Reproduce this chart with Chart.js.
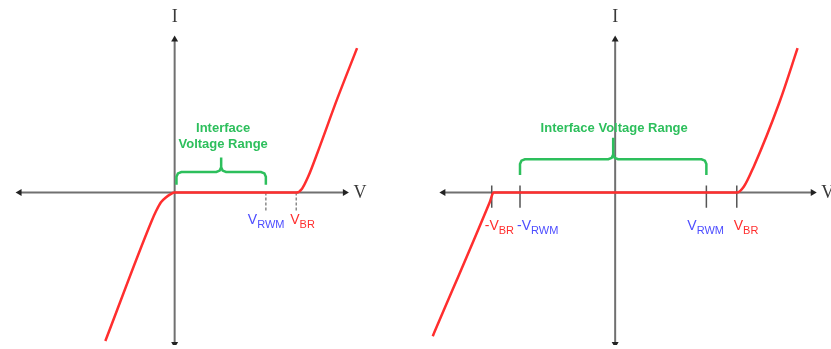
<!DOCTYPE html>
<html>
<head>
<meta charset="utf-8">
<script src="https://cdn.jsdelivr.net/npm/chart.js@4.4.1/dist/chart.umd.min.js"></script>
<style>
  html, body { margin: 0; padding: 0; background: #fff; }
  #wrap { position: relative; width: 831px; height: 349px; overflow: hidden; }
  canvas { position: absolute; top: 0; }
  #left { left: 0; }
  #right { left: 416px; }
</style>
</head>
<body>
<div id="wrap">
  <canvas id="left" width="415" height="349"></canvas>
  <canvas id="right" width="415" height="349"></canvas>
</div>
<script>
// ---- данные (единицы условные: V и I) ----
// левая панель: однонаправленный TVS
const leftV = [-2.28, -0.77, -0.61, -0.45, -0.29, -0.13, 0, 4, 4.19, 4.39, 4.71, 5.35, 6.0];
const leftI = [-4.9, -0.97, -0.61, -0.32, -0.16, -0.05, 0, 0, 0.13, 0.52, 1.35, 3.1, 4.77];
const leftTicks = [3.0, 4.0];            // V_RWM, V_BR
const leftRange = [0.06, 3.0];           // интерфейсный диапазон
const leftAxisV = [-5.1, 5.6];
const leftAxisI = [-5.0, 5.05];

// правая панель: двунаправленный TVS
const rightV = [-6.0, -4.12, -4.0, 4.0, 4.23, 4.55, 5.41, 6.0];
const rightI = [-4.74, -0.3, 0, 0, 0.19, 0.84, 3.0, 4.77];
const rightTicks = [-4.06, -3.13, 3.0, 4.0];   // -V_BR, -V_RWM, V_RWM, V_BR
const rightRange = [-3.13, 3.0];
const rightAxisV = [-5.65, 6.5];
const rightAxisI = [-5.0, 5.05];

const RED = '#ff2e2e';
const BLUE = '#4d4dff';
const GREEN = '#2dbf5c';
const AXIS = '#707070';

function pts(xs, ys) { return xs.map((x, i) => ({ x, y: ys[i] })); }

// фигурная скобка над диапазоном
function bracket(x0, x1, yb, yh, ytop) {
  const xm = (x0 + x1) / 2, r = 0.16;
  return [
    { x: x0, y: yb }, { x: x0, y: yh - r }, { x: x0 + r * 0.3, y: yh - r * 0.3 }, { x: x0 + r, y: yh },
    { x: xm - r, y: yh }, { x: xm - r * 0.3, y: yh + r * 0.3 }, { x: xm, y: yh + r }, { x: xm, y: ytop },
    { x: xm, y: yh + r }, { x: xm + r * 0.3, y: yh + r * 0.3 }, { x: xm + r, y: yh },
    { x: x1 - r, y: yh }, { x: x1 - r * 0.3, y: yh - r * 0.3 }, { x: x1, y: yh - r }, { x: x1, y: yb },
  ];
}

function axes(av, ai) {
  const base = { borderColor: AXIS, borderWidth: 2, pointStyle: 'triangle', pointRadius: 4,
    pointBackgroundColor: '#222', pointBorderColor: '#222', pointBorderWidth: 0, tension: 0 };
  return [
    { ...base, data: [{ x: av[0], y: 0 }, { x: av[1], y: 0 }], pointRotation: [-90, 90] },
    { ...base, data: [{ x: 0, y: ai[0] }, { x: 0, y: ai[1] }], pointRotation: [180, 0] },
  ];
}

function tickSets(ticks, top, bottom, color, dash, width) {
  return ticks.map(v => ({
    data: [{ x: v, y: top }, { x: v, y: bottom }],
    borderColor: color, borderWidth: width, borderDash: dash, pointRadius: 0, tension: 0,
  }));
}

const overlay = {
  id: 'overlay',
  afterDatasetsDraw(chart, args, o) {
    const { ctx, scales: { x, y } } = chart;
    const x0 = x.getPixelForValue(0), y0 = y.getPixelForValue(0);
    ctx.save();
    ctx.textBaseline = 'alphabetic';
    ctx.fillStyle = '#3a3a3a';
    ctx.font = '18px "Liberation Serif", "DejaVu Serif", serif';
    ctx.textAlign = 'center';
    ctx.fillText('I', x0, 22);
    ctx.fillText('V', x.getPixelForValue(o.vEnd) + 15, y0 + 5);

    ctx.fillStyle = GREEN;
    ctx.font = 'bold 13px "Liberation Sans", Arial, sans-serif';
    o.title.forEach((line, i) => ctx.fillText(line, x.getPixelForValue(o.peak) + o.titleDx, o.titleY + i * 16));

    ctx.textAlign = 'left';
    o.tags.forEach(t => {
      let px = x.getPixelForValue(t.v) + t.dx;
      ctx.fillStyle = t.color;
      ctx.font = '14px "Liberation Sans", Arial, sans-serif';
      const main = t.sign + 'V';
      ctx.fillText(main, px, o.tagY);
      px += ctx.measureText(main).width;
      ctx.font = '11px "Liberation Sans", Arial, sans-serif';
      ctx.fillText(t.sub, px, o.tagY + 4);
    });
    ctx.restore();
  }
};

function makeChart(id, cfg) {
  new Chart(document.getElementById(id), {
    type: 'line',
    data: { datasets: cfg.datasets },
    options: {
      responsive: false,
      animation: false,
      events: [],
      layout: { padding: 0 },
      scales: {
        x: { type: 'linear', display: false, min: cfg.xr[0], max: cfg.xr[1] },
        y: { type: 'linear', display: false, min: cfg.yr[0], max: cfg.yr[1] },
      },
      plugins: { legend: { display: false }, tooltip: { enabled: false }, overlay: cfg.overlay },
    },
    plugins: [overlay],
  });
}

makeChart('left', {
  xr: [-174 / 31, 241 / 31],
  yr: [-156 / 31, 193 / 31],
  datasets: [
    { data: pts(leftV, leftI), borderColor: RED, borderWidth: 2.5, pointRadius: 0, cubicInterpolationMode: 'monotone' },
    { data: bracket(leftRange[0], leftRange[1], 0.26, 0.68, 1.16), borderColor: GREEN, borderWidth: 2.5, pointRadius: 0, tension: 0 },
    ...tickSets(leftTicks, 0, -0.6, '#8a8a8a', [3, 2], 1.5),
    ...axes(leftAxisV, leftAxisI),
  ],
  overlay: {
    vEnd: leftAxisV[1], peak: (leftRange[0] + leftRange[1]) / 2, titleDx: 2, titleY: 132,
    title: ['Interface', 'Voltage Range'], tagY: 224,
    tags: [
      { sign: '', sub: 'RWM', v: leftTicks[0], dx: -18, color: BLUE },
      { sign: '', sub: 'BR', v: leftTicks[1], dx: -6, color: RED },
    ],
  },
});

makeChart('right', {
  xr: [-199 / 31, 216 / 31],
  yr: [-156 / 31, 193 / 31],
  datasets: [
    { data: pts(rightV, rightI), borderColor: RED, borderWidth: 2.5, pointRadius: 0, cubicInterpolationMode: 'monotone' },
    { data: bracket(rightRange[0], rightRange[1], 0.58, 1.1, 1.81), borderColor: GREEN, borderWidth: 2.5, pointRadius: 0, tension: 0 },
    ...tickSets(rightTicks, 0.23, -0.5, '#555', [], 1.5),
    ...axes(rightAxisV, rightAxisI),
  ],
  overlay: {
    vEnd: rightAxisV[1], peak: (rightRange[0] + rightRange[1]) / 2, titleDx: 1, titleY: 132,
    title: ['Interface Voltage Range'], tagY: 230,
    tags: [
      { sign: '-', sub: 'BR', v: rightTicks[0], dx: -7, color: RED },
      { sign: '-', sub: 'RWM', v: rightTicks[1], dx: -3, color: BLUE },
      { sign: '', sub: 'RWM', v: rightTicks[2], dx: -19, color: BLUE },
      { sign: '', sub: 'BR', v: rightTicks[3], dx: -3, color: RED },
    ],
  },
});
</script>
</body>
</html>
